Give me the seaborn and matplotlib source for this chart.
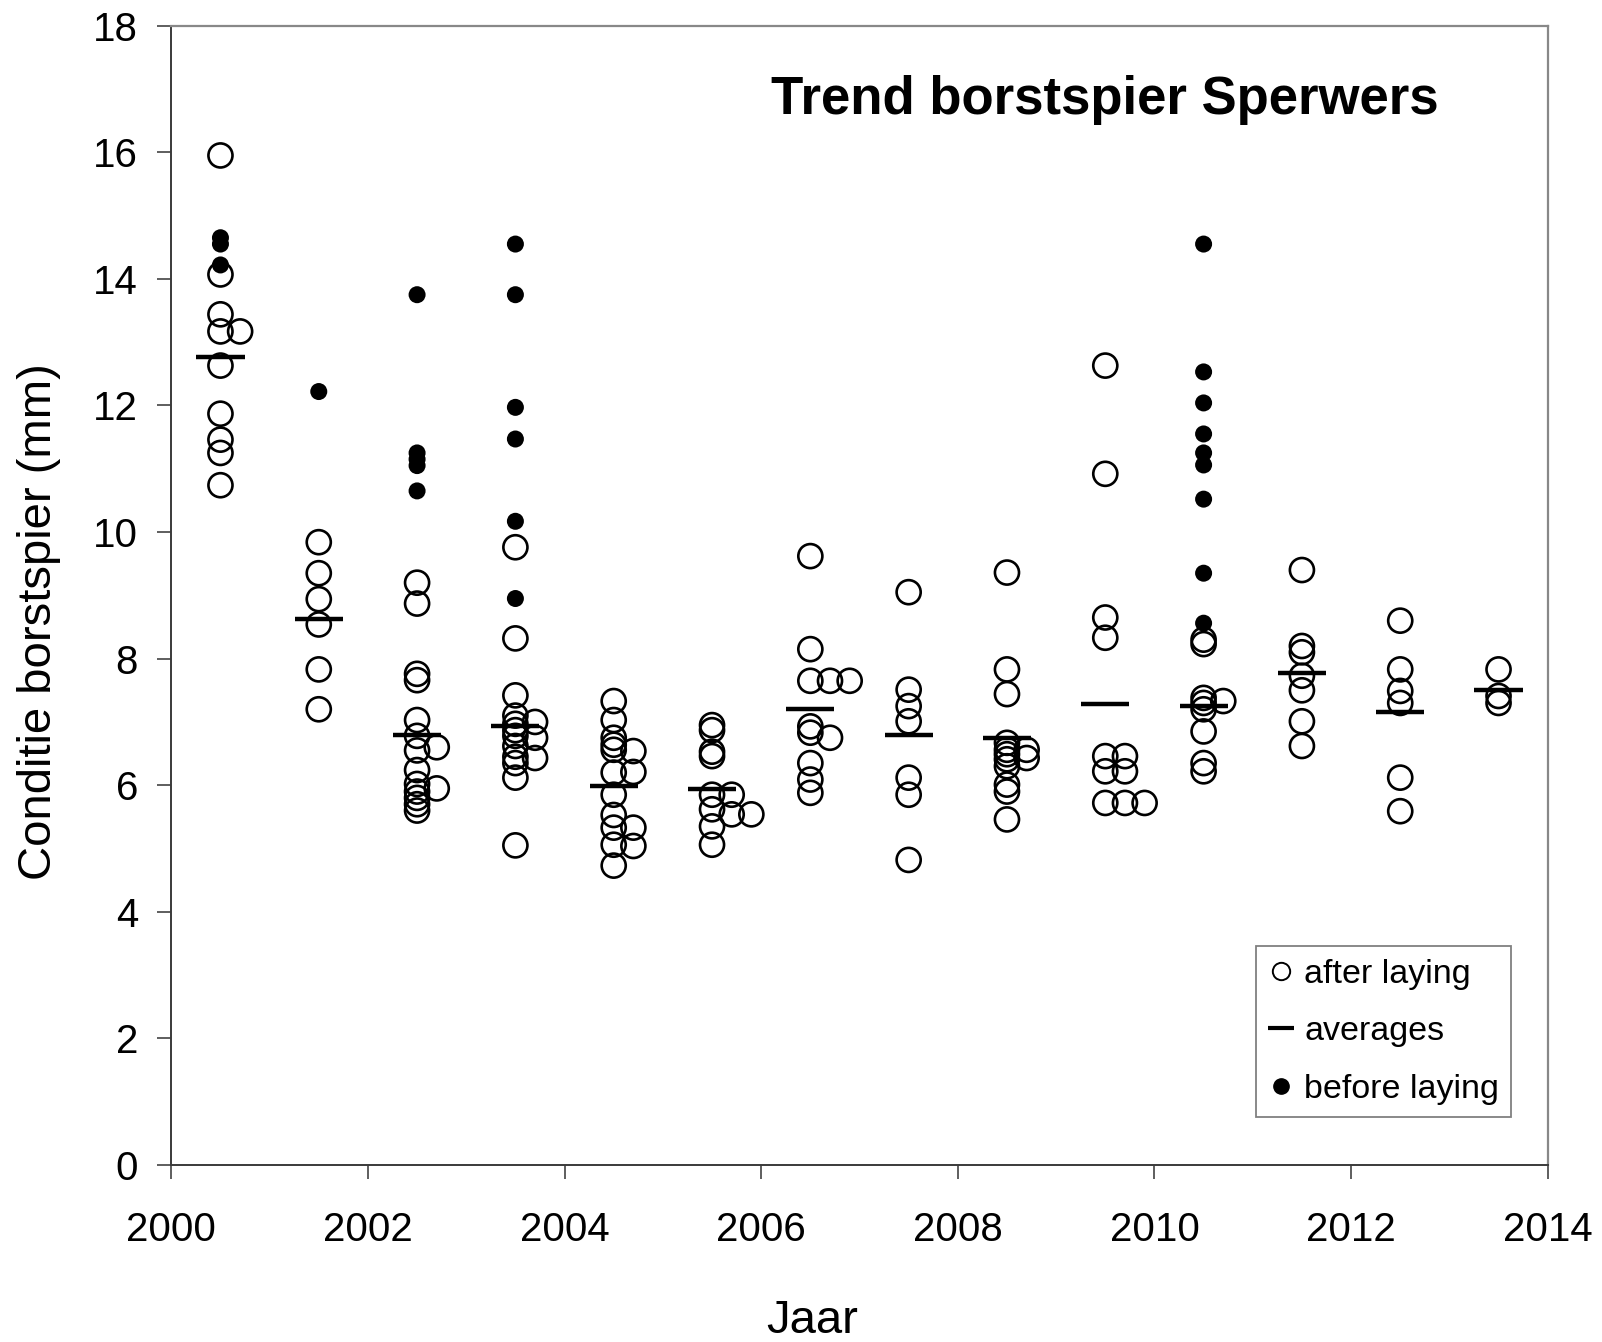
import numpy as np
import pandas as pd
import matplotlib
matplotlib.use("Agg")
import matplotlib.pyplot as plt
from matplotlib.lines import Line2D
import seaborn as sns

# ---------------- data ----------------
# after laying (open circles): year, value, slot (side-by-side index for overlapping points)
after_year = (
    [2000] * 10 + [2001] * 6 + [2002] * 15 + [2003] * 15 + [2004] * 15 + [2005] * 11
    + [2006] * 11 + [2007] * 7 + [2008] * 13 + [2009] * 11 + [2010] * 9 + [2011] * 7
    + [2012] * 6 + [2013] * 3
)
after_value = (
    [15.95, 14.07, 13.44, 13.17, 12.63, 11.87, 11.46, 11.25, 10.74, 13.17]
    + [9.84, 9.35, 8.94, 8.54, 7.83, 7.20]
    + [9.20, 8.87, 7.76, 7.66, 7.03, 6.78, 6.55, 6.24, 6.02, 5.90, 5.80, 5.70, 5.60, 6.60, 5.95]
    + [9.76, 8.32, 7.42, 7.10, 6.97, 6.87, 6.78, 6.62, 6.45, 6.35, 6.12, 5.05, 7.00, 6.75, 6.43]
    + [7.33, 7.03, 6.75, 6.64, 6.56, 6.20, 5.85, 5.53, 5.33, 5.06, 4.73, 6.54, 6.21, 5.33, 5.04]
    + [6.95, 6.87, 6.53, 6.46, 5.85, 5.62, 5.35, 5.06, 5.85, 5.54, 5.54]
    + [9.62, 8.15, 7.65, 6.93, 6.83, 6.35, 6.09, 5.88, 7.65, 6.75, 7.65]
    + [9.05, 7.51, 7.25, 7.01, 6.12, 5.85, 4.82]
    + [9.36, 7.83, 7.44, 6.67, 6.56, 6.49, 6.41, 6.30, 6.01, 5.90, 5.46, 6.56, 6.43]
    + [12.63, 10.92, 8.65, 8.33, 6.46, 6.22, 5.72, 6.46, 6.22, 5.72, 5.72]
    + [8.30, 8.23, 7.38, 7.30, 7.20, 6.85, 6.35, 6.22, 7.33]
    + [9.40, 8.20, 8.10, 7.73, 7.50, 7.01, 6.62]
    + [8.60, 7.83, 7.49, 7.30, 6.12, 5.59]
    + [7.83, 7.41, 7.30]
)
after_slot = (
    [0] * 9 + [1]
    + [0] * 6
    + [0] * 13 + [1] * 2
    + [0] * 12 + [1] * 3
    + [0] * 11 + [1] * 4
    + [0] * 8 + [1] * 2 + [2]
    + [0] * 8 + [1] * 2 + [2]
    + [0] * 7
    + [0] * 11 + [1] * 2
    + [0] * 7 + [1] * 3 + [2]
    + [0] * 8 + [1]
    + [0] * 7
    + [0] * 6
    + [0] * 3
)

# before laying (filled dots)
before_year = [2000] * 3 + [2001] + [2002] * 5 + [2003] * 6 + [2010] * 9
before_value = (
    [14.65, 14.55, 14.22]
    + [12.22]
    + [13.75, 11.25, 11.15, 11.05, 10.65]
    + [14.55, 13.75, 11.97, 11.47, 10.17, 8.95]
    + [14.55, 12.53, 12.04, 11.55, 11.25, 11.06, 10.52, 9.35, 8.56]
)

# yearly averages
avg_year = [2000, 2001, 2002, 2003, 2004, 2005, 2006, 2007, 2008, 2009, 2010, 2011, 2012, 2013]
avg_value = [12.76, 8.63, 6.80, 6.93, 5.98, 5.94, 7.20, 6.80, 6.75, 7.29, 7.25, 7.78, 7.16, 7.51]

x_ticks = [2000, 2002, 2004, 2006, 2008, 2010, 2012, 2014]
y_ticks = [0, 2, 4, 6, 8, 10, 12, 14, 16, 18]

title_text = "Trend borstspier Sperwers"
x_label = "Jaar"
y_label = "Conditie borstspier (mm)"
legend_labels = ["after laying", "averages", "before laying"]

# ---------------- style ----------------
sns.set_style("white")
plt.rcParams["font.family"] = ["Liberation Sans", "DejaVu Sans"]
plt.rcParams["text.color"] = "black"
plt.rcParams["axes.labelcolor"] = "black"
plt.rcParams["xtick.color"] = "black"
plt.rcParams["ytick.color"] = "black"

df_after = pd.DataFrame({"year": after_year, "value": after_value, "slot": after_slot})
df_after["x"] = df_after["year"] + 0.5 + 0.2 * df_after["slot"]
df_before = pd.DataFrame({"year": before_year, "value": before_value})
df_before["x"] = df_before["year"] + 0.5
df_avg = pd.DataFrame({"year": avg_year, "value": avg_value})

W, H = 1602, 1342
fig = plt.figure(figsize=(W / 100, H / 100), dpi=100)
ax = fig.add_axes([171.3 / W, 1 - 1165 / H, (1547.7 - 171.3) / W, (1165 - 25.7) / H])

sns.scatterplot(data=df_after, x="x", y="value", ax=ax, marker="o", s=300,
                color="black", facecolor="none", edgecolor="black", linewidth=1.9,
                zorder=2, legend=False)
sns.scatterplot(data=df_before, x="x", y="value", ax=ax, marker="o", s=150,
                color="black", edgecolor="none", linewidth=0, zorder=3, legend=False)
ax.hlines(df_avg["value"], df_avg["year"] + 0.255, df_avg["year"] + 0.745,
          color="black", linewidth=3.2, zorder=4)

ax.set_xlim(2000, 2014)
ax.set_ylim(0, 18)
ax.set_xticks(x_ticks)
ax.set_yticks(y_ticks)
ax.set_xlabel("")
ax.set_ylabel("")
ax.tick_params(axis="both", direction="out", length=10, width=1.1, colors="#333333",
               labelcolor="black", labelsize=29)
ax.tick_params(axis="x", pad=23)
ax.tick_params(axis="y", pad=14)
ax.tick_params(bottom=True, left=True)

for side in ["left", "bottom"]:
    ax.spines[side].set_color("#3a3a3a")
    ax.spines[side].set_linewidth(1.4)
for side in ["top", "right"]:
    ax.spines[side].set_color("#888888")
    ax.spines[side].set_linewidth(1.6)
    ax.spines[side].set_visible(True)
ax.grid(False)

fig.text(1105 / W, 1 - 114 / H, title_text, ha="center", va="baseline",
         fontsize=38, fontweight="bold", color="black")
fig.text(812 / W, 1 - 1333 / H, x_label, ha="center", va="baseline", fontsize=34,
         color="black")
fig.text(39 / W, 1 - 622 / H, y_label, ha="center", va="center", rotation=90,
         fontsize=34, color="black")

handles = [
    Line2D([], [], linestyle="none", marker="o", markersize=12.5, markerfacecolor="none",
           markeredgecolor="black", markeredgewidth=1.4),
    Line2D([], [], linestyle="-", color="black", linewidth=3.0, solid_capstyle="butt"),
    Line2D([], [], linestyle="none", marker="o", markersize=11, markerfacecolor="black",
           markeredgecolor="black"),
]
leg = ax.legend(handles, legend_labels, loc="upper left",
                bbox_to_anchor=((1255.7 - 171.3) / 1376.4, (1165 - 946) / 1139.3),
                borderaxespad=0, fontsize=24.5, frameon=True, fancybox=False,
                framealpha=1, edgecolor="#808080", handlelength=0.75,
                handletextpad=0.3, borderpad=0.37, labelspacing=0.78)
leg.get_frame().set_linewidth(1.3)
for t in leg.get_texts():
    t.set_color("black")

fig.savefig("out.png", dpi=100, facecolor="white")
